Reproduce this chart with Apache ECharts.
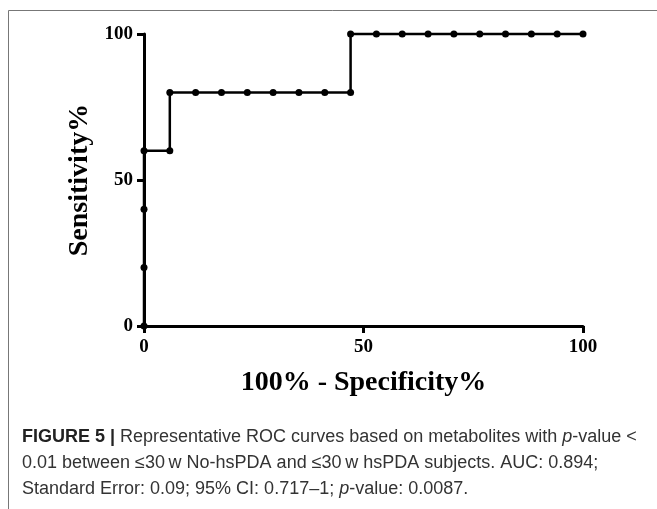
<!DOCTYPE html>
<html>
<head>
<meta charset="utf-8">
<script src="https://cdn.jsdelivr.net/npm/echarts@6/dist/echarts.min.js"></script>
<style>
html,body{margin:0;padding:0;background:#fff;}
#c{width:657px;height:509px;}
</style>
</head>
<body>
<div id="c"></div>
<script>
// Data: ROC points (100% - Specificity%, Sensitivity%)
var fprValues = [0, 0, 0, 0, 5.88, 5.88, 11.76, 17.65, 23.53, 29.41, 35.29, 41.18, 47.06, 47.06, 52.94, 58.82, 64.71, 70.59, 76.47, 82.35, 88.24, 94.12, 100];
var sensValues = [0, 20, 40, 60, 60, 80, 80, 80, 80, 80, 80, 80, 80, 100, 100, 100, 100, 100, 100, 100, 100, 100, 100];
var xTicks = [0, 50, 100];
var yTicks = [0, 50, 100];
var xTitle = '100% - Specificity%';
var yTitle = 'Sensitivity%';

var points = fprValues.map(function (x, i) { return [x, sensValues[i]]; });

var chart = echarts.init(document.getElementById('c'), null, {renderer: 'canvas'});
var serif = '"Liberation Serif", "Times New Roman", serif';
var sans = '"Liberation Sans", Arial, sans-serif';
var axisLabelStyle = {fontFamily: serif, fontWeight: 'bold', fontSize: 19, color: '#000'};

chart.setOption({
  animation: false,
  backgroundColor: '#fff',
  grid: {left: 144, right: 74, top: 34, bottom: 183},
  xAxis: {
    type: 'value', min: 0, max: 100, interval: 50,
    name: xTitle, nameLocation: 'middle', nameGap: 43,
    nameTextStyle: {fontFamily: serif, fontWeight: 'bold', fontSize: 28, color: '#000'},
    axisLine: {show: true, onZero: false, lineStyle: {color: '#000', width: 3}},
    axisTick: {show: true, inside: false, length: 7, lineStyle: {color: '#000', width: 3}},
    axisLabel: Object.assign({margin: 12, formatter: function (v) { return xTicks.indexOf(v) >= 0 ? String(v) : ''; }}, axisLabelStyle),
    splitLine: {show: false}
  },
  yAxis: {
    type: 'value', min: 0, max: 100, interval: 50,
    name: yTitle, nameLocation: 'middle', nameGap: 43, nameRotate: 90,
    nameTextStyle: {fontFamily: serif, fontWeight: 'bold', fontSize: 28, color: '#000'},
    axisLine: {show: true, onZero: false, lineStyle: {color: '#000', width: 3}},
    axisTick: {show: true, inside: false, length: 7, lineStyle: {color: '#000', width: 3}},
    axisLabel: Object.assign({margin: 11, formatter: function (v) { return yTicks.indexOf(v) >= 0 ? String(v) : ''; }}, axisLabelStyle),
    splitLine: {show: false}
  },
  series: [{
    type: 'line',
    data: points,
    symbol: 'circle',
    symbolSize: 7,
    itemStyle: {color: '#000'},
    lineStyle: {color: '#000', width: 2.5},
    clip: false
  }],
  graphic: [
    {type: 'line', shape: {x1: 8.5, y1: 10.5, x2: 657, y2: 10.5}, style: {stroke: '#777', lineWidth: 1}},
    {type: 'line', shape: {x1: 8.5, y1: 10.5, x2: 8.5, y2: 509}, style: {stroke: '#777', lineWidth: 1}},
    {
      type: 'text', left: 22, top: 424,
      style: {
        text: '{b|FIGURE 5 |} Representative ROC curves based on metabolites with {i|p}-value <\n0.01 between \u226430\u2009w No-hsPDA and \u226430\u2009w hsPDA subjects. AUC: 0.894;\nStandard Error: 0.09; 95% CI: 0.717\u20131; {i|p}-value: 0.0087.',
        fontFamily: sans,
        fontSize: 18, lineHeight: 26, fill: '#333',
        rich: {
          b: {fontWeight: 'bold', fontFamily: sans, fontSize: 18, fill: '#222'},
          i: {fontStyle: 'italic', fontFamily: sans, fontSize: 18, fill: '#333'}
        }
      }
    }
  ]
});
</script>
</body>
</html>
